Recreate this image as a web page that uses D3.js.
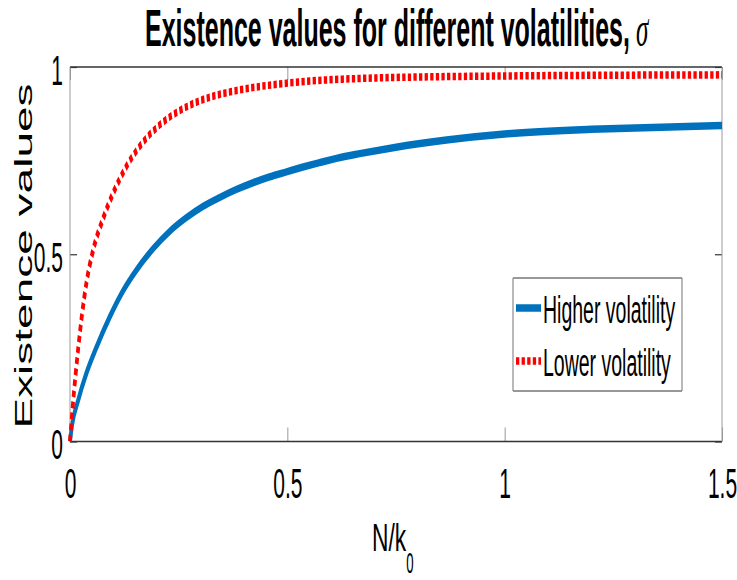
<!DOCTYPE html>
<html>
<head>
<meta charset="utf-8">
<script src="https://cdn.jsdelivr.net/npm/d3@7"></script>
<style>
  html, body { margin: 0; padding: 0; background: #fff; overflow: hidden; }
  svg { display: block; }
  text { font-family: "Liberation Sans", Arial, Helvetica, sans-serif; fill: #000; }
</style>
</head>
<body>
<svg id="chart" width="737" height="580"></svg>
<script>
// Existence value curves: N/k0 on x, existence value on y
const nHigh = [0, 0.005, 0.019, 0.038, 0.061, 0.092, 0.119, 0.153, 0.192, 0.23, 0.268, 0.306, 0.345, 0.383, 0.421, 0.46, 0.498, 0.536, 0.575, 0.613, 0.663, 0.75, 0.866, 1.0, 1.2, 1.5];
const higherVolatility = [0, 0.045, 0.111, 0.183, 0.252, 0.334, 0.396, 0.458, 0.516, 0.562, 0.598, 0.628, 0.652, 0.673, 0.691, 0.707, 0.72, 0.733, 0.745, 0.756, 0.768, 0.786, 0.805, 0.821, 0.834, 0.844];

const nLow = [0, 0.006, 0.013, 0.019, 0.027, 0.038, 0.052, 0.077, 0.1, 0.13, 0.161, 0.207, 0.253, 0.299, 0.345, 0.40, 0.5, 0.683, 1.0, 1.5];
const lowerVolatility = [0, 0.09, 0.18, 0.25, 0.333, 0.425, 0.505, 0.598, 0.665, 0.735, 0.789, 0.846, 0.884, 0.91, 0.927, 0.941, 0.957, 0.97, 0.976, 0.979];

const xTickValues = [0, 0.5, 1, 1.5];
const xTickLabels = ["0", "0.5", "1", "1.5"];
const yTickValues = [0, 0.5, 1];
const yTickLabels = ["0", "0.5", "1"];
const seriesNames = ["Higher volatility", "Lower volatility"];

const svg = d3.select("#chart");

// plot box
const L = 70, R = 722, T = 67, B = 441.5;
const SX = 0.5; // horizontal squeeze of glyphs and strokes

const x = d3.scaleLinear().domain([0, 1.5]).range([L, R]);
const y = d3.scaleLinear().domain([0, 1]).range([B, T]);
// unsqueezed x scale used inside the squeezed line group
const xWide = d3.scaleLinear().domain([0, 1.5]).range([0, (R - L) / SX]);

const blue = "#0072BD", red = "#FF0000";
const dotted = "6.6,4.6";

// ticks (inward, on all four sides)
const tickColV = "#9a9a9a", tickColH = "#333";
const gx = svg.append("g").attr("transform", `translate(0,${B})`)
  .call(d3.axisBottom(x).tickValues(xTickValues).tickSize(-14).tickSizeOuter(0)
    .tickFormat((d, i) => xTickLabels[i]));
gx.select(".domain").remove();
gx.selectAll("line").attr("stroke", tickColV);
gx.selectAll("text")
  .attr("y", 56.5).attr("dy", 0)
  .attr("font-size", 42)
  .attr("font-family", "Liberation Sans, Arial, sans-serif")
  .attr("fill", "#000")
  .attr("transform", `scale(${SX},1)`);

const gxt = svg.append("g").attr("transform", `translate(0,${T})`)
  .call(d3.axisTop(x).tickValues(xTickValues).tickSize(-13).tickSizeOuter(0).tickFormat(""));
gxt.select(".domain").remove();
gxt.selectAll("line").attr("stroke", tickColV);

const gy = svg.append("g").attr("transform", `translate(${L},0)`)
  .call(d3.axisLeft(y).tickValues(yTickValues).tickSize(-7).tickSizeOuter(0)
    .tickFormat((d, i) => yTickLabels[i]));
gy.select(".domain").remove();
gy.selectAll("line").attr("stroke", tickColH).attr("stroke-width", 1.2);
gy.selectAll("text")
  .attr("x", 0).attr("dy", 0).attr("y", 17)
  .attr("text-anchor", "end")
  .attr("font-size", 42)
  .attr("font-family", "Liberation Sans, Arial, sans-serif")
  .attr("fill", "#000")
  .attr("transform", `translate(-7,0) scale(${SX},1)`);

const gyr = svg.append("g").attr("transform", `translate(${R},0)`)
  .call(d3.axisRight(y).tickValues(yTickValues).tickSize(-7).tickSizeOuter(0).tickFormat(""));
gyr.select(".domain").remove();
gyr.selectAll("line").attr("stroke", tickColH).attr("stroke-width", 1.2);

// frame
svg.append("line").attr("x1", L).attr("x2", R).attr("y1", T).attr("y2", T)
  .attr("stroke", "#333").attr("stroke-width", 1.4);
svg.append("line").attr("x1", L).attr("x2", R).attr("y1", B).attr("y2", B)
  .attr("stroke", "#333").attr("stroke-width", 1.6);
svg.append("line").attr("x1", L).attr("x2", L).attr("y1", T).attr("y2", B)
  .attr("stroke", tickColV).attr("stroke-width", 1);
svg.append("line").attr("x1", R).attr("x2", R).attr("y1", T).attr("y2", B)
  .attr("stroke", tickColV).attr("stroke-width", 1);

// curves, drawn in an unsqueezed frame and squeezed horizontally
const lineGen = (xs) => d3.line()
  .x((d, i) => xWide(xs[i]))
  .y(d => y(d))
  .curve(d3.curveMonotoneX);

const plot = svg.append("g").attr("transform", `translate(${L},0) scale(${SX},1)`);
plot.append("path")
  .attr("d", lineGen(nHigh)(higherVolatility))
  .attr("fill", "none").attr("stroke", blue).attr("stroke-width", 7.5)
  .attr("stroke-linejoin", "round");
plot.append("path")
  .attr("d", lineGen(nLow)(lowerVolatility))
  .attr("fill", "none").attr("stroke", red).attr("stroke-width", 7.5)
  .attr("stroke-dasharray", dotted);

// legend
const lgL = 513, lgR = 682, lgT = 278, lgB = 391;
svg.append("rect").attr("x", lgL).attr("y", lgT).attr("width", lgR - lgL).attr("height", lgB - lgT)
  .attr("fill", "#fff");
[[lgL, lgT, lgR, lgT, "#333"], [lgL, lgB, lgR, lgB, "#333"],
 [lgL, lgT, lgL, lgB, "#8a8a8a"], [lgR, lgT, lgR, lgB, "#8a8a8a"]].forEach(s => {
  svg.append("line").attr("x1", s[0]).attr("y1", s[1]).attr("x2", s[2]).attr("y2", s[3])
    .attr("stroke", s[4]).attr("stroke-width", 1.2);
});
const legendRows = [
  { name: seriesNames[0], color: blue, dash: null, cy: 308 },
  { name: seriesNames[1], color: red, dash: dotted, cy: 361 }
];
legendRows.forEach(r => {
  const g = svg.append("g").attr("transform", `translate(516,0) scale(${SX},1)`);
  const ln = g.append("line").attr("x1", 0).attr("x2", 50).attr("y1", r.cy).attr("y2", r.cy)
    .attr("stroke", r.color).attr("stroke-width", 7.5);
  if (r.dash) ln.attr("stroke-dasharray", r.dash);
  svg.append("text")
    .attr("transform", `translate(543,${r.cy + 15}) scale(${SX},1)`)
    .attr("font-size", 39)
    .text(r.name);
});

// title: bold words fitted to their width, followed by an italic sigma
const title = svg.append("text").attr("font-size", 51);
const titleMain = title.append("tspan").attr("font-weight", "bold")
  .text("Existence values for different volatilities,");
const tw = titleMain.node().getComputedTextLength();
const tsx = (630 - 145) / tw;
title.append("tspan")
  .attr("dx", 6 / tsx)
  .attr("font-style", "italic")
  .style("font-family", "'Liberation Serif', 'Times New Roman', serif")
  .text("σ");
title.attr("transform", `translate(145,46) scale(${tsx},1)`);

// axis labels
svg.append("text")
  .attr("transform", `translate(32,256) scale(${SX},1) rotate(-90)`)
  .attr("text-anchor", "middle")
  .attr("font-size", 46)
  .text("Existence values");

svg.append("text")
  .attr("transform", `translate(372,550.5) scale(0.6,1)`)
  .attr("font-size", 38)
  .text("N/k");
svg.append("text")
  .attr("transform", `translate(410,572.5) scale(0.44,1)`)
  .attr("text-anchor", "middle")
  .attr("font-size", 30)
  .text("0");
</script>
</body>
</html>
